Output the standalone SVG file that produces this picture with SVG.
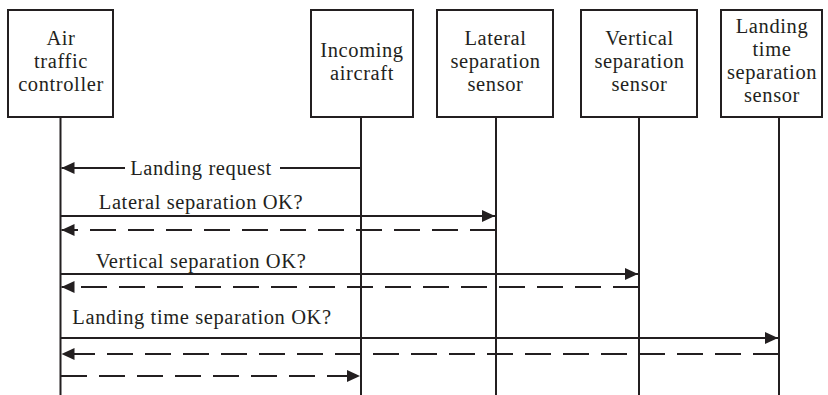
<svg xmlns="http://www.w3.org/2000/svg" width="828" height="395" viewBox="0 0 828 395">
<style>
.box{fill:#fff;stroke:#231f20;stroke-width:2}
.t{font-family:"Liberation Serif",serif;font-size:20.5px;letter-spacing:0.6px;fill:#231f20;text-anchor:middle}
.life{stroke:#231f20;stroke-width:2;fill:none}
.msg{stroke:#231f20;stroke-width:2;fill:none}
.dash{stroke-dasharray:26 12}
</style>
<defs>
<marker id="ah" markerUnits="userSpaceOnUse" markerWidth="14" markerHeight="14" refX="13" refY="6" orient="auto">
<path d="M0,0 L13,6 L0,12 z" fill="#231f20"/>
</marker>
</defs>
<g id="atc">
<rect class="box" x="8" y="10" width="105" height="107"/>
<text class="t" x="61" y="45">Air</text>
<text class="t" x="61" y="68">traffic</text>
<text class="t" x="61" y="91">controller</text>
</g>
<g id="incoming">
<rect class="box" x="311" y="10" width="102" height="107"/>
<text class="t" x="362" y="57">Incoming</text>
<text class="t" x="362" y="80">aircraft</text>
</g>
<g id="lateral">
<rect class="box" x="437" y="10" width="116" height="107"/>
<text class="t" x="495.5" y="45">Lateral</text>
<text class="t" x="495.5" y="68">separation</text>
<text class="t" x="495.5" y="91">sensor</text>
</g>
<g id="vertical">
<rect class="box" x="581" y="10" width="116" height="107"/>
<text class="t" x="639.5" y="45">Vertical</text>
<text class="t" x="639.5" y="68">separation</text>
<text class="t" x="639.5" y="91">sensor</text>
</g>
<g id="landing">
<rect class="box" x="721" y="10" width="101" height="107"/>
<text class="t" x="772" y="33">Landing</text>
<text class="t" x="772" y="56">time</text>
<text class="t" x="772" y="79">separation</text>
<text class="t" x="772" y="102">sensor</text>
</g>
<g id="connectors">
<line class="life" x1="60.5" y1="117" x2="60.5" y2="395"/>
<line class="life" x1="361" y1="117" x2="361" y2="395"/>
<line class="life" x1="496" y1="117" x2="496" y2="395"/>
<line class="life" x1="639" y1="117" x2="639" y2="395"/>
<line class="life" x1="779" y1="117" x2="779" y2="395"/>
<line class="msg" x1="361" y1="168" x2="280" y2="168"/>
<line class="msg" x1="125" y1="168" x2="61.5" y2="168" marker-end="url(#ah)"/>
<text class="t" x="201" y="175">Landing request</text>
<text class="t" x="201" y="209">Lateral separation OK?</text>
<line class="msg" x1="61" y1="216" x2="495" y2="216" marker-end="url(#ah)"/>
<line class="msg dash" x1="496" y1="230" x2="61.5" y2="230" marker-end="url(#ah)"/>
<text class="t" x="201" y="268">Vertical separation OK?</text>
<line class="msg" x1="61" y1="274" x2="638" y2="274" marker-end="url(#ah)"/>
<line class="msg dash" x1="639" y1="287" x2="61.5" y2="287" marker-end="url(#ah)"/>
<text class="t" x="202" y="324">Landing time separation OK?</text>
<line class="msg" x1="61" y1="338" x2="778" y2="338" marker-end="url(#ah)"/>
<line class="msg dash" x1="779" y1="354" x2="61.5" y2="354" marker-end="url(#ah)"/>
<line class="msg dash" x1="61" y1="376" x2="360" y2="376" marker-end="url(#ah)"/>
</g>
</svg>
